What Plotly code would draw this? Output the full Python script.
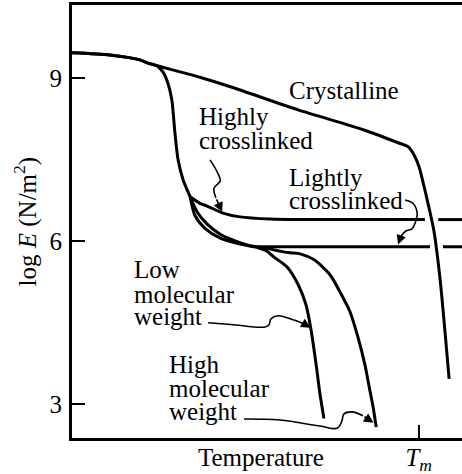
import plotly.graph_objects as go

# ---------------- data (temperature in arbitrary units, log E) ----------------
cryst_x = [0, 9.7, 17.4, 19.5, 32.8, 40.8, 58.0, 74.9, 83.8, 86.2, 87.7, 89.0, 90.3, 91.5, 92.8, 94.4, 95.6, 96.7]
cryst_y = [9.47, 9.43, 9.34, 9.28, 9.02, 8.84, 8.42, 8.05, 7.81, 7.74, 7.59, 7.37, 7.00, 6.63, 6.19, 5.29, 4.37, 3.47]

trunk_x = [0, 9.7, 17.4, 19.5, 21.8, 23.3, 24.6, 25.6, 26.4, 27.2, 28.5, 30.3]
trunk_y = [9.47, 9.43, 9.34, 9.28, 9.23, 9.12, 8.91, 8.60, 7.99, 7.50, 7.13, 6.82]

high_xl_x = [30.3, 32.8, 34.6, 38.7, 43.1, 50.8, 58.5, 90.5, None, 93.9, 100]
high_xl_y = [6.82, 6.70, 6.65, 6.52, 6.45, 6.41, 6.40, 6.40, None, 6.40, 6.40]

light_xl_x = [30.3, 32.1, 34.6, 38.0, 41.8, 46.4, 53.3, 91.8, None, 95.1, 100]
light_xl_y = [6.82, 6.54, 6.32, 6.13, 6.01, 5.91, 5.90, 5.90, None, 5.90, 5.90]

mw_lead_x = [30.3, 31.5, 34.1, 38.0, 43.1, 47.4]
mw_lead_y = [6.82, 6.48, 6.24, 6.06, 5.95, 5.89]

low_mw_x = [50.0, 51.8, 55.1, 58.0, 60.0, 61.3, 62.6, 63.6, 64.6]
low_mw_y = [5.82, 5.71, 5.53, 5.20, 4.83, 4.37, 3.73, 3.18, 2.74]

high_mw_x = [50.0, 53.3, 55.9, 58.5, 62.1, 66.2, 69.0, 71.3, 73.3, 75.1, 76.2, 77.2, 78.0]
high_mw_y = [5.87, 5.82, 5.79, 5.77, 5.66, 5.38, 5.03, 4.70, 4.24, 3.73, 3.32, 2.95, 2.58]

y_ticks = [3, 6, 9]
t_melt = 88.9

# ---------------- figure ----------------
fig = go.Figure()
LW = 3


def curve(x, y, width=LW, smooth=0.7):
    fig.add_trace(go.Scatter(x=x, y=y, mode="lines", hoverinfo="skip", showlegend=False,
                             line=dict(color="black", width=width, shape="spline", smoothing=smooth),
                             connectgaps=False))


curve(cryst_x, cryst_y)
curve(trunk_x, trunk_y)
curve(high_xl_x, high_xl_y)
curve(light_xl_x, light_xl_y)
curve(mw_lead_x, mw_lead_y)
curve(mw_lead_x[-1:] + low_mw_x, mw_lead_y[-1:] + low_mw_y)
curve(mw_lead_x[-1:] + high_mw_x, mw_lead_y[-1:] + high_mw_y)

# leader lines (label pointers)
leaders = [
    ([35.4, 37.2, 38.0, 36.4, 36.9], [7.50, 7.28, 7.11, 6.98, 6.80], (38.5, 6.54)),
    ([85.4, 87.4, 88.5, 88.0, 87.2, 85.6, 84.4], [6.76, 6.70, 6.52, 6.34, 6.23, 6.19, 6.10], (83.6, 5.94)),
    ([34.9, 40.8, 49.2, 50.5, 51.0, 52.8, 56.9, 59.5], [4.50, 4.47, 4.42, 4.46, 4.57, 4.63, 4.55, 4.48], (61.2, 4.41)),
    ([44.1, 53.3, 63.6, 68.0, 69.2, 69.7, 71.8, 74.6], [2.73, 2.71, 2.60, 2.56, 2.69, 2.82, 2.86, 2.79], (77.3, 2.66)),
]
for lx, ly, head in leaders:
    curve(lx, ly, width=1.6, smooth=1.0)
    fig.add_annotation(x=head[0], y=head[1], ax=lx[-1], ay=ly[-1], xref="x", yref="y",
                       axref="x", ayref="y", text="", showarrow=True, arrowhead=2,
                       arrowsize=1.2, arrowwidth=1.6, arrowcolor="black")

FONT = dict(family="Liberation Serif", size=25, color="black")
labels = [
    ("Crystalline", 55.0, 8.78),
    ("Highly", 32.1, 8.29),
    ("crosslinked", 32.1, 7.85),
    ("Lightly", 55.0, 7.18),
    ("crosslinked", 55.0, 6.76),
    ("Low", 15.4, 5.49),
    ("molecular", 15.4, 5.03),
    ("weight", 15.4, 4.61),
    ("High", 24.4, 3.74),
    ("molecular", 24.4, 3.30),
    ("weight", 24.4, 2.86),
]
for txt, x, y in labels:
    fig.add_annotation(x=x, y=y, xref="x", yref="y", text=txt, showarrow=False,
                       xanchor="left", yanchor="middle", font=FONT)

fig.add_annotation(x=48.5, y=-0.046, xref="x", yref="paper", text="Temperature", showarrow=False,
                   xanchor="center", yanchor="middle", font=FONT)
fig.add_annotation(x=-0.118, y=0.5, xref="paper", yref="paper", text="log <i>E</i> (N/m<sup>2</sup>)",
                   textangle=-90, showarrow=False, xanchor="center", yanchor="middle", font=FONT)

fig.update_layout(
    width=462, height=474,
    margin=dict(l=72, r=0, t=5, b=36),
    paper_bgcolor="white", plot_bgcolor="white",
    font=FONT,
    xaxis=dict(range=[0, 100], showgrid=False, zeroline=False, showline=True, linecolor="black",
               linewidth=2.5, mirror=True, tickvals=[t_melt], ticktext=["<i>T</i><sub><i>m</i></sub>"],
               ticks="inside", ticklen=13, tickwidth=2, tickcolor="black", automargin=False,
               ticklabelstandoff=-5),
    yaxis=dict(range=[2.38, 10.35], showgrid=False, zeroline=False, showline=True, linecolor="black",
               linewidth=3, tickvals=y_ticks, ticks="inside", ticklen=13, tickwidth=2,
               tickcolor="black", ticklabelstandoff=2, automargin=False),
)

fig.write_html("out.html", config={"displayModeBar": False},
               post_script="document.body.style.margin='0';document.body.style.overflow='hidden';")
